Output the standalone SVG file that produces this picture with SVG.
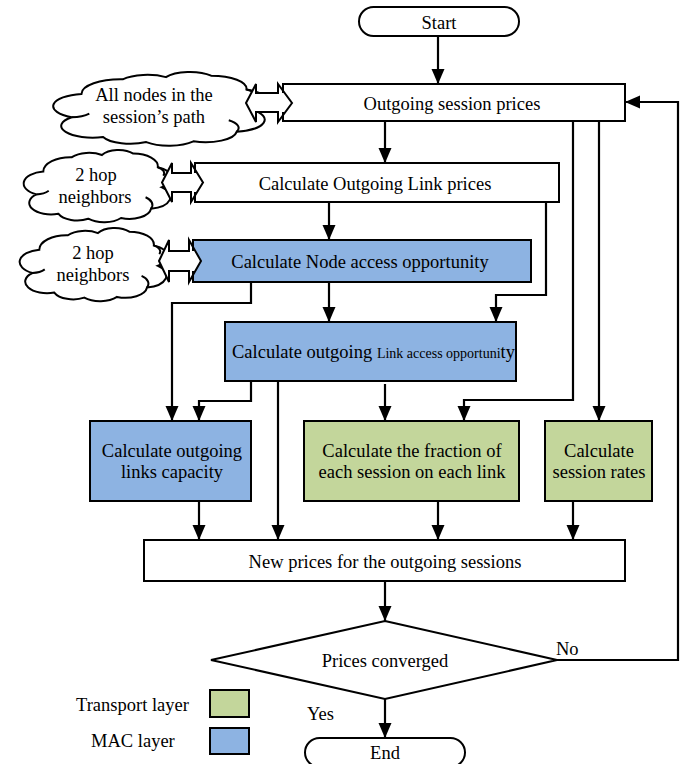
<svg xmlns="http://www.w3.org/2000/svg" xmlns:xlink="http://www.w3.org/1999/xlink" width="681" height="764" viewBox="0 0 681 764">
  <style>
    text { font-family: "Liberation Serif", "Times New Roman", serif; font-size: 18.5px; fill: #000; }
    .c { text-anchor: middle; }
    .box { fill: #fff; stroke: #000; stroke-width: 2; }
    .mac { fill: #8DB3E2; stroke: #000; stroke-width: 2; }
    .tra { fill: #C3D69B; stroke: #000; stroke-width: 2; }
    .cloud { fill: #fff; stroke: #000; stroke-width: 2; }
    .curl { fill: none; stroke: #000; stroke-width: 2; }
    .barrow { fill: #fff; stroke: #000; stroke-width: 2; stroke-linejoin: miter; }
    .edge { fill: none; stroke: #000; stroke-width: 2; }
    .wire { fill: none; stroke: #000; stroke-width: 2.2; marker-end: url(#head); }
  </style>
  <defs>
    <marker id="head" markerUnits="userSpaceOnUse" markerWidth="16" markerHeight="14" refX="15" refY="6.5" orient="auto">
      <path d="M0,0 L15,6.5 L0,13 z" fill="#000"/>
    </marker>
    <!-- cloud outline in a unit frame, stretched per use -->
    <path id="cloudShape" vector-effect="non-scaling-stroke" d="M4,62 A17,17 0 0 1 9,30 A20,20 0 0 1 30,10 A16,16 0 0 1 52,7 A14,14 0 0 1 75,5 A18,18 0 0 1 93,24 A16,16 0 0 1 96,52 A17,17 0 0 1 88,82 A16,16 0 0 1 66,95 A16,16 0 0 1 42,96 A15,15 0 0 1 20,89 A16,16 0 0 1 4,62 Z"/>
    <path id="cloudCurls" vector-effect="non-scaling-stroke" d="M4,62 A12,12 0 0 0 13,57 M88,82 A14,14 0 0 0 84,66 M93,24 A10,10 0 0 1 97,36"/>
  </defs>

  <rect width="681" height="764" fill="#fff"/>

  <!-- information sources -->
  <g id="cloud-path">
    <use xlink:href="#cloudShape" class="cloud" transform="translate(63.8,72) scale(1.964,0.73)"/>
    <use xlink:href="#cloudCurls" class="curl" transform="translate(63.8,72) scale(1.964,0.73)"/>
    <text class="c" x="154" y="101">All nodes in the</text>
    <text class="c" x="154" y="123">session’s path</text>
  </g>
  <g id="cloud-hop1">
    <use xlink:href="#cloudShape" class="cloud" transform="translate(31,150) scale(1.364,0.716)"/>
    <use xlink:href="#cloudCurls" class="curl" transform="translate(31,150) scale(1.364,0.716)"/>
    <text class="c" x="96" y="181">2 hop</text>
    <text class="c" x="95" y="203">neighbors</text>
  </g>
  <g id="cloud-hop2">
    <use xlink:href="#cloudShape" class="cloud" transform="translate(27,228) scale(1.364,0.7255)"/>
    <use xlink:href="#cloudCurls" class="curl" transform="translate(27,228) scale(1.364,0.7255)"/>
    <text class="c" x="93" y="259">2 hop</text>
    <text class="c" x="93" y="281">neighbors</text>
  </g>

  <!-- process steps -->
  <g id="start">
    <rect class="box" x="359" y="7" width="160" height="29" rx="14.5"/>
    <text class="c" x="439" y="29">Start</text>
  </g>
  <g id="session-prices">
    <rect class="box" x="283" y="84" width="342" height="37"/>
    <text class="c" x="452" y="110">Outgoing session prices</text>
  </g>
  <g id="link-prices">
    <rect class="box" x="195" y="163" width="364" height="39"/>
    <text class="c" x="375" y="190">Calculate Outgoing Link prices</text>
  </g>
  <g id="node-access">
    <rect class="mac" x="193" y="240" width="338" height="42"/>
    <text class="c" x="360" y="268">Calculate Node access opportunity</text>
  </g>
  <g id="link-access">
    <rect class="mac" x="225" y="322" width="291" height="59"/>
    <text x="232" y="358">Calculate outgoing <tspan font-size="14">Link access opportuni</tspan>ty</text>
  </g>
  <g id="links-capacity">
    <rect class="mac" x="90" y="421" width="161" height="80"/>
    <text class="c" x="172" y="457">Calculate outgoing</text>
    <text class="c" x="172" y="478">links capacity</text>
  </g>
  <g id="session-fraction">
    <rect class="tra" x="304" y="421" width="215" height="80"/>
    <text class="c" x="412" y="457">Calculate the fraction of</text>
    <text class="c" x="412" y="478">each session on each link</text>
  </g>
  <g id="session-rates">
    <rect class="tra" x="545" y="421" width="107" height="80"/>
    <text class="c" x="599" y="457">Calculate</text>
    <text class="c" x="599" y="478">session rates</text>
  </g>
  <g id="new-prices">
    <rect class="box" x="144" y="540" width="481" height="41"/>
    <text class="c" x="385" y="568">New prices for the outgoing sessions</text>
  </g>
  <g id="converged">
    <polygon class="box" points="385,621 557,660 385,699 211,660"/>
    <text class="c" x="385" y="667">Prices converged</text>
  </g>
  <g id="end">
    <rect class="box" x="305" y="738" width="160" height="29" rx="14.5"/>
    <text class="c" x="385" y="759">End</text>
  </g>

  <!-- two-way exchange arrows, with the step's left edge showing through the head -->
  <g id="exchange">
    <polygon class="barrow" points="246,103 256,84 256,93 278,93 278,84 292,103 278,122 278,112 256,112 256,122"/>
    <path class="edge" d="M283,84 V93 M283,112 V121"/>
    <polygon class="barrow" points="162,182.5 172,163 172,173 191,173 191,163 203,182.5 191,202 191,192 172,192 172,202"/>
    <path class="edge" d="M195,163 V173 M195,192 V202"/>
    <polygon class="barrow" points="159,261 169,240 169,251 189,251 189,240 201,261 189,282 189,271 169,271 169,282"/>
    <path class="edge" d="M193,240 V251 M193,271 V282"/>
  </g>

  <!-- connectors -->
  <g id="connectors">
    <path class="wire" d="M438,36 V84"/>
    <path class="wire" d="M385,121 V163"/>
    <path class="wire" d="M329,202 V240"/>
    <path class="wire" d="M329,282 V322"/>
    <path class="wire" d="M546,202 V295 H496 V322"/>
    <path class="wire" d="M251,282 V303 H172 V421"/>
    <path class="wire" d="M251,381 V401 H199 V421"/>
    <path class="wire" d="M278,381 V540"/>
    <path class="wire" d="M385,384 V421"/>
    <path class="wire" d="M573,121 V400 H464 V421"/>
    <path class="wire" d="M599,121 V421"/>
    <path class="wire" d="M199,501 V540"/>
    <path class="wire" d="M438,501 V540"/>
    <path class="wire" d="M573,501 V540"/>
    <path class="wire" d="M385,581 V621"/>
    <path class="wire" d="M385,699 V738"/>
    <path class="wire" d="M557,660 H678 V102 H625"/>
    <text x="556" y="655">No</text>
    <text x="307" y="720">Yes</text>
  </g>

  <!-- legend -->
  <g id="legend">
    <text x="76" y="711">Transport layer</text>
    <rect class="tra" x="210" y="690" width="39" height="27"/>
    <text x="91" y="747">MAC layer</text>
    <rect class="mac" x="210" y="728" width="39" height="26"/>
  </g>
</svg>
